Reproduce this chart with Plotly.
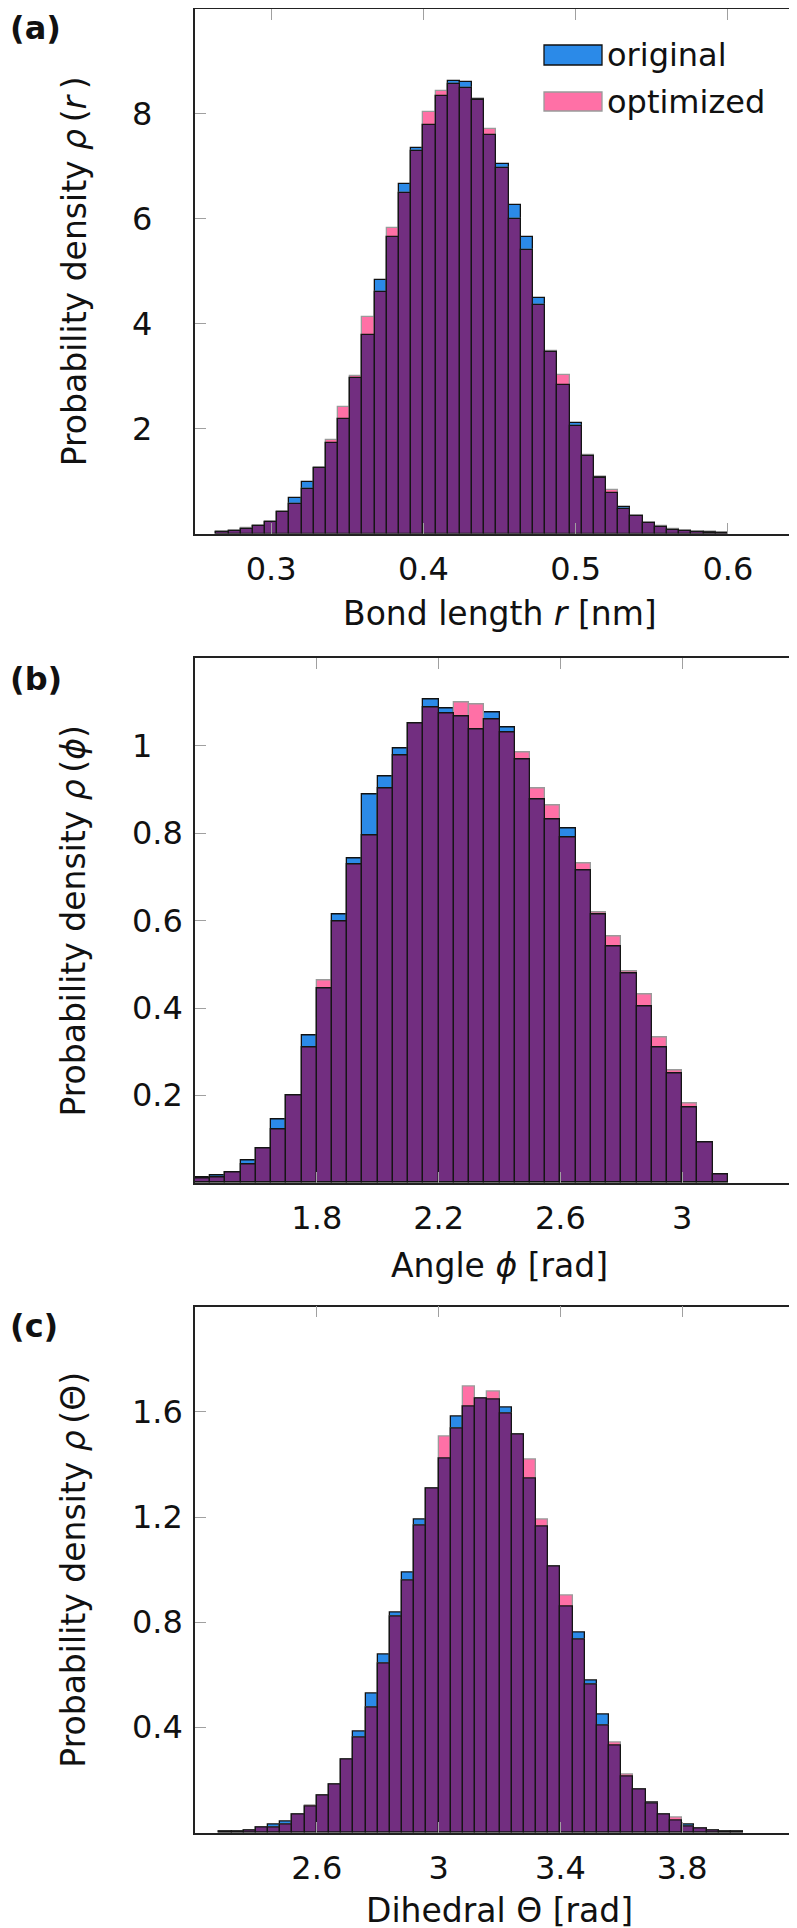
import plotly.graph_objects as go

# ---------------- data ----------------
# (a) bond length histogram
bond_start = 0.264
bond_width = 0.008
bond_original = [0.04, 0.05, 0.095, 0.145, 0.23, 0.42, 0.67, 0.99, 1.26, 1.72,
                 2.19, 2.96, 3.79, 4.83, 5.66, 6.66, 7.35, 7.78, 8.34, 8.63,
                 8.60, 8.28, 7.60, 7.04, 6.27, 5.65, 4.50, 3.47, 2.84, 2.10,
                 1.47, 1.07, 0.77, 0.50, 0.33, 0.20, 0.12, 0.075, 0.055, 0.04,
                 0.024, 0.016]
bond_optimized = [0.04, 0.045, 0.10, 0.145, 0.22, 0.42, 0.57, 0.855, 1.26, 1.78,
                  2.41, 3.00, 4.12, 4.61, 5.82, 6.50, 7.30, 8.03, 8.44, 8.57,
                  8.49, 8.27, 7.72, 6.96, 5.99, 5.40, 4.36, 3.49, 3.03, 2.05,
                  1.50, 1.06, 0.84, 0.47, 0.33, 0.21, 0.14, 0.08, 0.05, 0.035,
                  0.02, 0.012]

# (b) angle histogram
angle_start = 1.40
angle_width = 0.05
angle_original = [0.012, 0.017, 0.024, 0.051, 0.078, 0.144, 0.199, 0.338, 0.445, 0.615,
                  0.743, 0.888, 0.929, 0.993, 1.052, 1.106, 1.085, 1.068, 1.038, 1.076,
                  1.041, 0.969, 0.877, 0.832, 0.810, 0.715, 0.615, 0.540, 0.480, 0.403,
                  0.310, 0.250, 0.173, 0.093, 0.020]
angle_optimized = [0.010, 0.013, 0.024, 0.042, 0.078, 0.122, 0.200, 0.309, 0.464, 0.599,
                   0.729, 0.796, 0.903, 0.977, 1.051, 1.088, 1.074, 1.100, 1.095, 1.061,
                   1.031, 0.985, 0.902, 0.863, 0.791, 0.730, 0.619, 0.564, 0.484, 0.430,
                   0.333, 0.257, 0.181, 0.093, 0.020]

# (c) dihedral histogram
dihedral_start = 2.28
dihedral_width = 0.04
dihedral_original = [0.003, 0.005, 0.008, 0.021, 0.030, 0.044, 0.068, 0.099, 0.140, 0.181,
                     0.277, 0.383, 0.529, 0.676, 0.835, 0.989, 1.191, 1.309, 1.422, 1.581,
                     1.619, 1.649, 1.647, 1.617, 1.513, 1.345, 1.165, 1.011, 0.861, 0.759,
                     0.580, 0.449, 0.332, 0.214, 0.165, 0.113, 0.069, 0.047, 0.031, 0.017,
                     0.009, 0.006, 0.003]
dihedral_optimized = [0.003, 0.005, 0.008, 0.019, 0.019, 0.031, 0.068, 0.104, 0.140, 0.181,
                      0.277, 0.362, 0.477, 0.643, 0.820, 0.957, 1.167, 1.309, 1.506, 1.535,
                      1.696, 1.649, 1.677, 1.592, 1.513, 1.417, 1.189, 1.011, 0.902, 0.734,
                      0.564, 0.406, 0.343, 0.222, 0.165, 0.110, 0.069, 0.057, 0.024, 0.017,
                      0.009, 0.006, 0.003]

# axis ticks
bond_xticks = [0.3, 0.4, 0.5, 0.6]
bond_xticklabels = ["0.3", "0.4", "0.5", "0.6"]
bond_yticks = [2, 4, 6, 8]
bond_yticklabels = ["2", "4", "6", "8"]
angle_xticks = [1.8, 2.2, 2.6, 3.0]
angle_xticklabels = ["1.8", "2.2", "2.6", "3"]
angle_yticks = [0.2, 0.4, 0.6, 0.8, 1.0]
angle_yticklabels = ["0.2", "0.4", "0.6", "0.8", "1"]
dihedral_xticks = [2.6, 3.0, 3.4, 3.8]
dihedral_xticklabels = ["2.6", "3", "3.4", "3.8"]
dihedral_yticks = [0.4, 0.8, 1.2, 1.6]
dihedral_yticklabels = ["0.4", "0.8", "1.2", "1.6"]

legend_labels = ["original", "optimized"]

# ---------------- style ----------------
W, H = 797, 1928
FONT = "DejaVu Sans"
FS = 32
FS_TITLE = 33
BLUE = "#2b8ae8"
PINK = "#ff70a6"
PURPLE = "#722e80"
TICKGRAY = "#a0a0a0"
TXT = "#111111"

PLOT_X0, PLOT_X1 = 187, 796
panels = [
    dict(top=1, bottom=525.6, xr=[0.25, 0.65], yr=[0, 10],
         start=bond_start, width=bond_width, orig=bond_original, opt=bond_optimized,
         xt=bond_xticks, xtl=bond_xticklabels,
         yt=bond_yticks, ytl=bond_yticklabels,
         xtitle="Bond length <i>r</i> [nm]",
         ytitle="Probability density <i>ρ</i>\u2009(<i>r</i>\u2009)",
         tag="(a)", tag_y=20, xtitle_y=605),
    dict(top=650.4, bottom=1174.8, xr=[1.4, 3.4], yr=[0, 1.2],
         start=angle_start, width=angle_width, orig=angle_original, opt=angle_optimized,
         xt=angle_xticks, xtl=angle_xticklabels,
         yt=angle_yticks, ytl=angle_yticklabels,
         xtitle="Angle <i>ϕ</i> [rad]",
         ytitle="Probability density <i>ρ</i>\u2009(<i>ϕ</i>)",
         tag="(b)", tag_y=671, xtitle_y=1257),
    dict(top=1298.6, bottom=1824.7, xr=[2.2, 4.2], yr=[0, 2.0],
         start=dihedral_start, width=dihedral_width, orig=dihedral_original, opt=dihedral_optimized,
         xt=dihedral_xticks, xtl=dihedral_xticklabels,
         yt=dihedral_yticks, ytl=dihedral_yticklabels,
         xtitle="Dihedral Θ [rad]",
         ytitle="Probability density <i>ρ</i>\u2009(Θ)",
         tag="(c)", tag_y=1318, xtitle_y=1902),
]

fig = go.Figure()
annotations = []
layout = {}

for i, p in enumerate(panels):
    n = i + 1
    xa = "x" if n == 1 else f"x{n}"
    ya = "y" if n == 1 else f"y{n}"
    centers = [p["start"] + (k + 0.5) * p["width"] for k in range(len(p["orig"]))]
    overlap = [min(a, b) for a, b in zip(p["orig"], p["opt"])]
    fig.add_trace(go.Bar(x=centers, y=p["orig"], width=p["width"], xaxis=xa, yaxis=ya,
                         marker=dict(color=BLUE, line=dict(color="#111111", width=1.3)),
                         name=legend_labels[0], showlegend=False))
    fig.add_trace(go.Bar(x=centers, y=p["opt"], width=p["width"], xaxis=xa, yaxis=ya,
                         marker=dict(color=PINK, line=dict(color="#9a9a9a", width=1.3)),
                         name=legend_labels[1], showlegend=False))
    fig.add_trace(go.Bar(x=centers, y=overlap, width=p["width"], xaxis=xa, yaxis=ya,
                         marker=dict(color=PURPLE, line=dict(color="#151515", width=1.3)),
                         name="overlap", showlegend=False, hoverinfo="skip"))

    dom_y = [1 - p["bottom"] / H, 1 - p["top"] / H]
    axcommon = dict(showgrid=False, zeroline=False, showline=True, linecolor="#222222",
                    linewidth=1.5, mirror="ticks", ticks="inside", ticklen=11,
                    tickcolor=TICKGRAY, tickwidth=1.2)
    layout["xaxis" if n == 1 else f"xaxis{n}"] = dict(
        domain=[PLOT_X0 / W, PLOT_X1 / W], range=p["xr"], anchor=ya,
        tickvals=p["xt"], ticktext=p["xtl"], ticklabelstandoff=6,
        tickfont=dict(family=FONT, size=FS, color=TXT), **axcommon)
    layout["yaxis" if n == 1 else f"yaxis{n}"] = dict(
        domain=dom_y, range=p["yr"], anchor=xa, tickvals=p["yt"],
        showticklabels=False, **axcommon)

    # y tick labels (left-aligned, as in the reference)
    for v, t in zip(p["yt"], p["ytl"]):
        annotations.append(dict(text=t, x=122 / W, xref="paper", xanchor="left",
                                y=v, yref=ya, yanchor="middle", showarrow=False,
                                font=dict(family=FONT, size=FS, color=TXT)))
    # y title
    annotations.append(dict(text=p["ytitle"], x=66 / W, xref="paper", xanchor="center",
                            y=1 - (p["top"] + p["bottom"]) / 2 / H, yref="paper",
                            yanchor="middle", textangle=-90, showarrow=False,
                            font=dict(family=FONT, size=FS_TITLE, color=TXT)))
    # x title
    annotations.append(dict(text=p["xtitle"], x=(PLOT_X0 + PLOT_X1) / 2 / W, xref="paper",
                            xanchor="center", y=1 - p["xtitle_y"] / H, yref="paper",
                            yanchor="middle", showarrow=False,
                            font=dict(family=FONT, size=FS_TITLE, color=TXT)))
    # panel tag
    annotations.append(dict(text="<b>" + p["tag"] + "</b>", x=0, xref="paper", xanchor="left",
                            y=1 - p["tag_y"] / H, yref="paper", yanchor="middle",
                            showarrow=False,
                            font=dict(family=FONT, size=FS, color=TXT)))

# legend drawn in panel (a)
shapes = [
    dict(type="rect", xref="paper", yref="paper", x0=536 / W, x1=594 / W,
         y0=1 - 57 / H, y1=1 - 37 / H, fillcolor=BLUE, line=dict(color="#111111", width=1.3)),
    dict(type="rect", xref="paper", yref="paper", x0=536 / W, x1=594 / W,
         y0=1 - 103 / H, y1=1 - 84 / H, fillcolor=PINK, line=dict(color="#9a9a9a", width=1.3)),
]
annotations.append(dict(text=legend_labels[0], x=597 / W, xref="paper", xanchor="left",
                        y=1 - 47 / H, yref="paper", yanchor="middle", showarrow=False,
                        font=dict(family=FONT, size=FS, color=TXT)))
annotations.append(dict(text=legend_labels[1], x=597 / W, xref="paper", xanchor="left",
                        y=1 - 94 / H, yref="paper", yanchor="middle", showarrow=False,
                        font=dict(family=FONT, size=FS, color=TXT)))

fig.update_layout(width=W, height=H, margin=dict(l=0, r=0, t=0, b=0),
                  paper_bgcolor="white", plot_bgcolor="white",
                  barmode="overlay", bargap=0, showlegend=False,
                  annotations=annotations, shapes=shapes,
                  font=dict(family=FONT, size=FS, color=TXT), **layout)

fig.write_html("out.html")
